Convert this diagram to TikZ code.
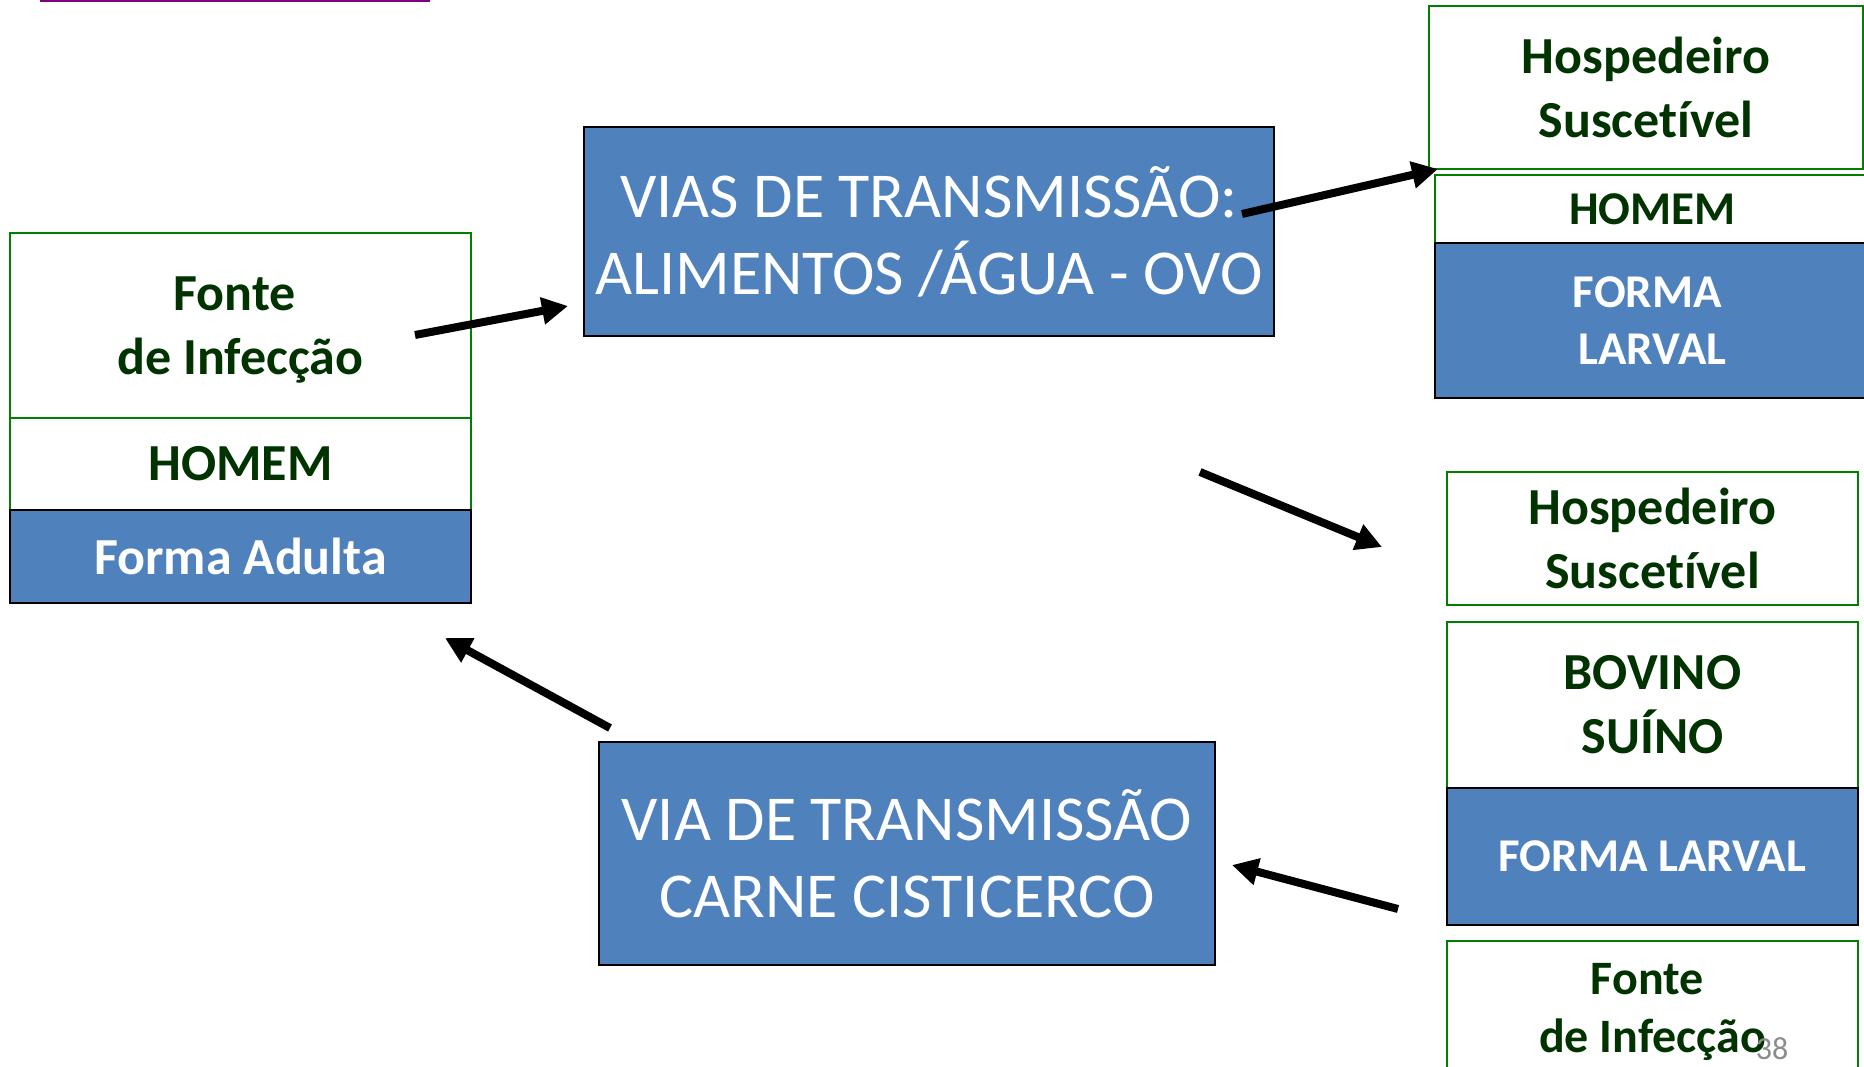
\documentclass[tikz,border=0pt]{standalone}
\usepackage{fontspec}
\setmainfont{Carlito}[Ligatures={NoCommon,NoContextual}]
\usetikzlibrary{arrows.meta}
\definecolor{bfill}{RGB}{79,129,189}
\definecolor{gline}{RGB}{0,128,0}
\definecolor{gtext}{RGB}{0,51,0}
\definecolor{purp}{RGB}{128,0,128}
\definecolor{pgray}{RGB}{140,140,140}
\begin{document}
\begin{tikzpicture}[x=1pt,y=-1pt,
  wbox/.style={draw=gline,line width=2pt,fill=white,text=gtext,font=\bfseries\fontsize{52}{64}\selectfont,align=center,inner sep=0pt,outer sep=0pt},
  bbox/.style={draw=black,line width=2pt,fill=bfill,text=white,align=center,inner sep=0pt,outer sep=0pt},
  boldtxt/.style={font=\bfseries\fontsize{52}{64}\selectfont},
  midtxt/.style={font=\bfseries\fontsize{47}{57}\selectfont},
  smalltxt/.style={font=\bfseries\fontsize{47}{57}\selectfont},
  bigtxt/.style={font=\fontsize{64}{77}\selectfont},
  arr/.style={line width=8pt,-{Triangle[length=26pt,width=26pt]}},
]
\useasboundingbox (0,0) rectangle (1864,1067);
\clip (0,0) rectangle (1864,1067);
\fill[white] (0,0) rectangle (1864,1067);
% purple rule at top
\fill[purp] (40,0) rectangle (430,2.5);

% left group
\node[wbox,text depth=0pt,minimum width=461pt,minimum height=185pt] (fonteA) at (240.5,325.5) {Fonte\hspace*{0.22em}\\de Infecção};
\node[wbox,minimum width=461pt,minimum height=92pt] (homemA) at (240.5,464) {HOMEM};
\node[bbox,boldtxt,minimum width=461pt,minimum height=93pt] (adulta) at (240.5,556.5) {Forma Adulta};

% right top group
\node[wbox,minimum width=434pt,minimum height=163pt] (hospA) at (1646,87.5) {Hospedeiro\\Suscetível};
\node[wbox,midtxt,minimum width=435pt,minimum height=68pt] (homemB) at (1652.5,209) {HOMEM};
\node[bbox,midtxt,minimum width=435pt,minimum height=155pt] (larvaA) at (1652.5,320.5) {FORMA\hspace*{0.22em}\\LARVAL};

% right bottom group
\node[wbox,minimum width=411pt,minimum height=133pt] (hospB) at (1652.5,538.5) {Hospedeiro\\Suscetível};
\node[wbox,minimum width=411pt,minimum height=166pt] (bovino) at (1652.5,705) {BOVINO\\SUÍNO};
\node[bbox,smalltxt,minimum width=411pt,minimum height=137pt] (larvaB) at (1652.5,856.5) {FORMA LARVAL};
\node[wbox,text depth=0pt,font=\bfseries\fontsize{48}{58}\selectfont,minimum width=411pt,minimum height=134pt] (fonteB) at (1652.5,1008) {Fonte\hspace*{0.22em}\\de Infecção};

% center boxes
\node[bbox,bigtxt,minimum width=690pt,minimum height=209pt] (vias) at (929,231.5) {VIAS DE TRANSMISSÃO:\\ALIMENTOS /ÁGUA - OVO};
\node[bbox,bigtxt,minimum width=616pt,minimum height=223pt] (carne) at (907,853.5) {VIA DE TRANSMISSÃO\\CARNE CISTICERCO};

% page number
\node[text=pgray,font=\fontsize{32}{38}\selectfont,inner sep=0pt] (pnum) at (1772,1049) {38};

% arrow end points
\coordinate (a1s) at (415,335);   \coordinate (a1e) at (568,306);
\coordinate (a2s) at (1242,214);  \coordinate (a2e) at (1438,169);
\coordinate (a3s) at (1200,472);  \coordinate (a3e) at (1382,547);
\coordinate (a4s) at (610,728);   \coordinate (a4e) at (445,638);
\coordinate (a5s) at (1398,909);  \coordinate (a5e) at (1232,865);

\draw[arr] (a1s) -- (a1e);
\draw[arr] (a2s) -- (a2e);
\draw[arr] (a3s) -- (a3e);
\draw[arr] (a4s) -- (a4e);
\draw[arr] (a5s) -- (a5e);
\end{tikzpicture}
\end{document}
